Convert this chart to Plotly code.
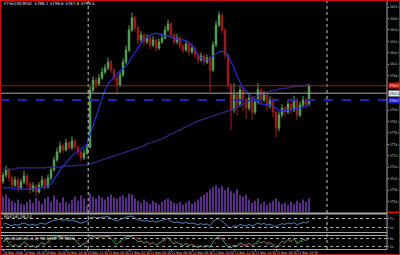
import plotly.graph_objects as go

title_text = "FTSE100,M30  3788.1 3794.6 3787.4 3794.5"
rsi_name = "RSI(14) 58.12"
stoch_name = "Stochastic(5,3,3) 90.4762 77.3016"

opens = [3761.0, 3763.3, 3765.1, 3762.3, 3759.8, 3761.6, 3758.8, 3760.9, 3763.0, 3760.2,
         3758.1, 3759.5, 3757.4, 3759.8, 3761.6, 3759.1, 3762.3, 3765.1, 3768.6, 3771.4,
         3773.5, 3772.1, 3774.5, 3772.8, 3775.2, 3773.1, 3771.4, 3769.3, 3771.0, 3773.0,
         3793.0, 3796.5, 3795.1, 3797.2, 3799.3, 3800.7, 3802.8, 3800.0, 3797.2, 3794.8,
         3798.3, 3802.8, 3807.0, 3814.0, 3818.2, 3814.7, 3810.5, 3812.2, 3809.8, 3811.2,
         3808.7, 3810.5, 3807.7, 3809.8, 3811.2, 3814.0, 3816.1, 3812.2, 3809.8, 3811.2,
         3808.4, 3807.0, 3809.1, 3806.3, 3807.7, 3805.2, 3803.5, 3804.9, 3802.8, 3804.2,
         3800.0, 3808.7, 3815.7, 3819.2, 3814.0, 3805.2, 3794.8, 3786.0, 3791.3, 3787.8,
         3793.0, 3789.5, 3786.7, 3790.2, 3785.3, 3788.8, 3793.0, 3789.5, 3791.3, 3787.4,
         3789.5, 3785.3, 3779.7, 3784.3, 3786.7, 3785.3, 3788.1, 3786.0, 3789.5, 3784.3,
         3787.8, 3789.5, 3788.1]
highs = [3764.5, 3766.6, 3765.8, 3763.0, 3762.8, 3762.5, 3762.0, 3764.8, 3763.8, 3761.0,
         3760.8, 3760.2, 3760.9, 3763.0, 3762.4, 3763.5, 3766.2, 3769.8, 3772.9, 3775.0,
         3774.3, 3776.0, 3775.3, 3776.8, 3775.9, 3773.8, 3772.0, 3772.3, 3774.0, 3794.5,
         3797.8, 3797.4, 3798.6, 3800.8, 3802.0, 3804.3, 3803.5, 3800.6, 3798.0, 3799.5,
         3804.0, 3808.5, 3815.6, 3820.0, 3819.0, 3815.5, 3813.6, 3812.8, 3812.5, 3811.9,
         3811.8, 3811.1, 3811.0, 3812.7, 3815.4, 3817.6, 3816.8, 3813.0, 3812.6, 3811.8,
         3809.2, 3810.4, 3809.8, 3809.0, 3808.4, 3806.0, 3806.2, 3805.5, 3805.4, 3804.8,
         3810.0, 3817.2, 3820.5, 3819.8, 3814.6, 3805.8, 3795.4, 3795.5, 3792.4, 3794.6,
         3793.8, 3790.2, 3791.5, 3790.8, 3790.0, 3795.5, 3793.6, 3792.7, 3792.0, 3790.8,
         3790.1, 3785.9, 3785.5, 3788.0, 3787.4, 3789.6, 3789.0, 3791.0, 3790.2, 3789.0,
         3791.0, 3790.3, 3795.2]
lows = [3760.2, 3762.5, 3761.0, 3758.5, 3759.0, 3757.2, 3758.0, 3760.2, 3759.0, 3756.8,
        3757.3, 3756.0, 3756.8, 3759.0, 3758.0, 3758.6, 3761.5, 3764.6, 3767.9, 3770.8,
        3771.0, 3771.5, 3771.9, 3772.0, 3772.2, 3770.2, 3768.2, 3768.6, 3770.3, 3772.5,
        3792.0, 3793.6, 3794.5, 3796.6, 3798.5, 3800.0, 3799.0, 3796.0, 3791.5, 3794.0,
        3797.6, 3802.0, 3806.2, 3813.2, 3813.5, 3809.0, 3809.6, 3808.4, 3809.0, 3807.3,
        3808.0, 3806.5, 3807.0, 3809.1, 3810.6, 3813.4, 3811.0, 3808.7, 3809.0, 3807.2,
        3805.8, 3806.4, 3805.0, 3805.6, 3804.1, 3802.2, 3802.9, 3801.6, 3802.0, 3792.3,
        3799.4, 3808.0, 3815.0, 3812.8, 3804.0, 3793.4, 3779.0, 3785.0, 3784.0, 3787.0,
        3785.6, 3783.0, 3785.8, 3782.6, 3784.5, 3788.0, 3788.2, 3788.8, 3785.8, 3786.5,
        3783.5, 3776.5, 3778.6, 3783.4, 3783.8, 3784.6, 3784.6, 3785.3, 3782.5, 3783.5,
        3787.0, 3786.8, 3787.4]
closes = [3763.3, 3765.1, 3762.3, 3759.8, 3761.6, 3758.8, 3760.9, 3763.0, 3760.2, 3758.1,
          3759.5, 3757.4, 3759.8, 3761.6, 3759.1, 3762.3, 3765.1, 3768.6, 3771.4, 3773.5,
          3772.1, 3774.5, 3772.8, 3775.2, 3773.1, 3771.4, 3769.3, 3771.0, 3772.8, 3793.0,
          3796.5, 3795.1, 3797.2, 3799.3, 3800.7, 3802.8, 3800.0, 3797.2, 3794.8, 3798.3,
          3802.8, 3807.0, 3814.0, 3818.2, 3814.7, 3810.5, 3812.2, 3809.8, 3811.2, 3808.7,
          3810.5, 3807.7, 3809.8, 3811.2, 3814.0, 3816.1, 3812.2, 3809.8, 3811.2, 3808.4,
          3807.0, 3809.1, 3806.3, 3807.7, 3805.2, 3803.5, 3804.9, 3802.8, 3804.2, 3800.0,
          3808.7, 3815.7, 3819.2, 3814.0, 3805.2, 3794.8, 3786.0, 3791.3, 3787.8, 3793.0,
          3789.5, 3786.7, 3790.2, 3785.3, 3788.8, 3793.0, 3789.5, 3791.3, 3787.4, 3789.5,
          3785.3, 3779.7, 3784.3, 3786.7, 3785.3, 3788.1, 3786.0, 3789.5, 3784.3, 3787.8,
          3789.5, 3788.1, 3794.5]
volumes = [150, 170, 130, 110, 90, 120, 80,
           70, 100, 120, 90, 140, 110, 80, 130, 150, 100,
           160, 120, 90, 140, 100, 80, 120, 150, 110, 160, 130, 60,
           180, 150, 130, 160, 140, 120, 150, 170, 140, 130, 150, 160, 140, 180, 170,
           130, 110, 90, 120, 100, 80, 110, 90, 70, 100, 120, 130, 110, 90, 80, 100, 70, 90, 110, 80, 100, 120,
           150, 170, 190, 220, 240, 260, 230, 250, 210, 240, 200, 180, 220, 160, 150, 170,
           120, 90, 110, 130, 80, 100, 70, 90, 110, 130, 100, 80, 90, 70, 100, 80, 110, 90, 120, 100, 130]
ma_fast = [3758.8, 3758.8, 3758.8, 3758.8, 3758.4, 3758.4, 3758.4, 3758.4, 3758.4, 3758.4,
           3758.4, 3758.4, 3758.8, 3758.8, 3759.1, 3759.5, 3760.2, 3761.6, 3763.3, 3765.1,
           3766.5, 3767.9, 3768.9, 3770.0, 3771.0, 3771.7, 3772.4, 3773.1, 3774.2, 3777.3,
           3780.8, 3783.9, 3787.1, 3790.2, 3793.0, 3795.1, 3796.5, 3797.6, 3798.6, 3799.7,
           3800.4, 3801.4, 3802.8, 3804.5, 3806.3, 3808.0, 3809.4, 3810.5, 3811.5, 3812.2,
           3812.6, 3812.9, 3812.6, 3812.2, 3811.9, 3811.9, 3811.5, 3811.2, 3810.8, 3810.5,
           3810.5, 3810.1, 3809.8, 3808.7, 3807.0, 3805.2, 3804.2, 3803.5, 3803.5, 3804.2,
           3804.9, 3805.6, 3806.3, 3806.6, 3806.3, 3805.2, 3803.1, 3800.7, 3797.9, 3795.5,
           3793.7, 3792.7, 3791.6, 3790.6, 3789.5, 3788.8, 3788.1, 3788.1, 3787.8, 3787.8,
           3787.4, 3786.7, 3786.0, 3785.7, 3785.7, 3786.0, 3786.0, 3786.4, 3786.7, 3786.7,
           3787.1, 3787.4, 3788.1]
ma_slow = [3765.4, 3765.4, 3765.4, 3765.4, 3765.4, 3765.8, 3765.8, 3765.8, 3765.8, 3765.8,
           3765.8, 3765.8, 3765.8, 3765.8, 3765.8, 3766.1, 3766.1, 3766.1, 3766.1, 3766.1,
           3766.5, 3766.5, 3766.5, 3766.5, 3766.5, 3766.8, 3766.8, 3766.8, 3766.8, 3767.2,
           3767.5, 3767.9, 3768.2, 3768.6, 3768.9, 3769.3, 3769.6, 3770.0, 3770.3, 3770.7,
           3771.0, 3771.4, 3771.7, 3772.1, 3772.4, 3772.8, 3773.1, 3773.5, 3774.2, 3774.5,
           3774.8, 3775.2, 3775.5, 3775.9, 3776.6, 3777.0, 3777.7, 3778.0, 3778.7, 3779.0,
           3779.7, 3780.1, 3780.8, 3781.1, 3781.8, 3782.2, 3782.5, 3782.9, 3783.2, 3783.6,
           3783.9, 3784.3, 3784.6, 3785.0, 3785.3, 3785.7, 3786.0, 3786.4, 3787.1, 3787.8,
           3788.1, 3788.8, 3789.5, 3789.9, 3790.6, 3790.9, 3791.6, 3792.0, 3792.3, 3792.7,
           3793.0, 3793.0, 3793.4, 3793.4, 3793.7, 3793.7, 3794.1, 3794.1, 3794.4, 3794.4,
           3794.4, 3794.8, 3794.8]
rsi = [45, 48, 42, 38, 44, 40, 46,
       50, 44, 40, 45, 39, 46, 50, 44, 52, 57,
       62, 64, 66, 62, 65, 60, 64, 58, 54, 49, 53, 57,
       74, 76, 73, 75, 77, 77, 78, 70, 64, 59, 66, 72, 75, 80, 81,
       71, 62, 64, 58, 61, 56, 60, 54, 58, 61, 66, 69, 58, 52, 55, 50, 48, 53, 47, 50, 45, 43,
       47, 43, 46, 38, 56, 66, 70, 58, 44, 34, 28, 38, 34, 44, 40, 36,
       44, 36, 43, 50, 44, 48, 41, 45, 38, 32, 42, 47, 44, 50, 46, 52, 43, 49, 52, 50, 58]
stoch_k = [60, 75, 40, 20, 35, 15, 30,
           55, 35, 15, 25, 10, 30, 50, 35, 60, 80,
           90, 92, 95, 85, 90, 75, 85, 70, 50, 25, 40, 55,
           90, 95, 88, 92, 95, 96, 97, 80, 55, 35, 60, 80, 92, 96, 98,
           80, 55, 62, 45, 55, 35, 50, 30, 45, 60, 80, 90, 60, 40, 52, 35, 25, 45, 25, 38, 20, 12,
           25, 15, 30, 12, 55, 85, 95, 75, 40, 15, 8, 30, 22, 50, 35, 20,
           45, 25, 40, 65, 45, 60, 35, 50, 30, 10, 35, 60, 50, 75, 55, 80, 40, 60, 75, 65, 90]
stoch_d = [55, 62, 58, 45, 32, 23, 27,
           33, 40, 35, 25, 17, 22, 30, 38, 48, 58,
           77, 87, 92, 91, 90, 83, 83, 77, 68, 48, 38, 40,
           62, 80, 91, 92, 92, 94, 96, 91, 77, 57, 50, 58, 77, 89, 95,
           91, 78, 66, 54, 54, 45, 47, 38, 42, 45, 62, 77, 77, 63, 51, 42, 37, 35, 32, 36, 28, 23,
           19, 17, 23, 19, 32, 51, 78, 85, 70, 43, 21, 18, 20, 34, 36, 35,
           33, 30, 37, 43, 50, 57, 47, 48, 38, 30, 25, 35, 48, 62, 60, 70, 58, 60, 58, 67, 77]

# price labels shown on the right axis (3794.0 and 3790.0 are hidden behind the line labels)
price_ticks = [3822.0, 3818.0, 3814.0, 3810.0, 3806.0, 3802.0, 3798.0,
               3786.0, 3782.0, 3778.0, 3774.0, 3770.0, 3766.0, 3762.0, 3758.0, 3754.0]
time_label_bars = [0, 7, 14, 21, 28, 35, 42, 49, 56, 63, 70, 77, 84, 91, 98]
time_labels = ["20 Nov 2008", "20 Nov 16:30", "20 Nov 18:30", "20 Nov 20:30", "20 Nov 22:30",
               "21 Nov 00:30", "21 Nov 02:30", "21 Nov 04:30", "21 Nov 06:30", "21 Nov 08:30",
               "21 Nov 10:30", "21 Nov 12:30", "21 Nov 14:30", "21 Nov 16:30", "21 Nov 18:30"]
separator_bars = [28.4, 108.0]
ask_line = 3791.9
level_line = 3789.5
rsi_levels = [70, 30]
stoch_levels = [80, 20]

W, H = 400, 255
PLOT_R = 387 / W


def py(px):
    return 1 - px / H


bars = list(range(len(closes)))
FONT = "Liberation Sans Narrow, DejaVu Sans Condensed, Arial, sans-serif"
UP, DN = "#5aa55a", "#a31c1c"

fig = go.Figure()
fig.add_trace(go.Bar(x=bars, y=volumes, marker=dict(color="#5b2d8a", line=dict(width=0)),
                     width=0.55, xaxis="x", yaxis="y", showlegend=False, hoverinfo="skip"))
fig.add_trace(go.Candlestick(x=bars, open=opens, high=highs, low=lows, close=closes,
                             increasing=dict(line=dict(color=UP, width=1), fillcolor=UP),
                             decreasing=dict(line=dict(color=DN, width=1), fillcolor=DN),
                             whiskerwidth=0, xaxis="x", yaxis="y2", showlegend=False))
fig.add_trace(go.Scatter(x=bars, y=ma_slow, mode="lines", line=dict(color="#2c2a86", width=1.2),
                         xaxis="x", yaxis="y2", showlegend=False))
fig.add_trace(go.Scatter(x=bars, y=ma_fast, mode="lines", line=dict(color="#1f2fd6", width=1.2),
                         xaxis="x", yaxis="y2", showlegend=False))
fig.add_trace(go.Scatter(x=bars, y=rsi, mode="lines", line=dict(color="#4a7fb8", width=1),
                         xaxis="x", yaxis="y3", showlegend=False))
fig.add_trace(go.Scatter(x=bars, y=stoch_k, mode="lines", line=dict(color="#3f9a6a", width=1),
                         xaxis="x", yaxis="y4", showlegend=False))
fig.add_trace(go.Scatter(x=bars, y=stoch_d, mode="lines", line=dict(color="#a02525", width=1, dash="dot"),
                         xaxis="x", yaxis="y4", showlegend=False))

tickfont = dict(size=3.3, color="#d0d0d0", family=FONT)
main_dom = [py(212), py(1)]
fig.update_layout(
    width=W, height=H, margin=dict(l=0, r=0, t=0, b=0, autoexpand=False),
    paper_bgcolor="black", plot_bgcolor="black",
    font=dict(family=FONT, color="#d8d8d8", size=4),
    showlegend=False,
    xaxis=dict(domain=[0, PLOT_R], range=[-1, 128], anchor="y4", showgrid=False, zeroline=False,
               tickvals=time_label_bars, ticktext=time_labels,
               tickfont=dict(size=3.4, color="#d8d8d8", family=FONT), tickangle=0, automargin=False,
               ticks="outside", ticklen=1, tickcolor="#a0a0a0",
               ticklabelposition="outside right", rangeslider=dict(visible=False)),
    yaxis=dict(domain=main_dom, range=[0, 260 * 212 / 27], visible=False, fixedrange=True),
    yaxis2=dict(overlaying="y", side="right", anchor="x", range=[3750.4, 3824.1],
                tickvals=price_ticks, ticktext=[f"{v:.1f}" for v in price_ticks],
                tickfont=tickfont, ticks="outside", ticklen=1, tickcolor="#a0a0a0",
                showgrid=False, zeroline=False, automargin=False),
    yaxis3=dict(domain=[py(232), py(214)], range=[10, 90], side="right", anchor="x",
                tickvals=rsi_levels, tickfont=tickfont, ticks="outside", ticklen=1,
                tickcolor="#a0a0a0", showgrid=False, zeroline=False, automargin=False),
    yaxis4=dict(domain=[py(249), py(236)], range=[0, 100], side="right", anchor="x",
                tickvals=stoch_levels, tickfont=tickfont, ticks="outside", ticklen=1,
                tickcolor="#a0a0a0", showgrid=False, zeroline=False, automargin=False),
)

shapes = []
for lv in rsi_levels:
    shapes.append(dict(type="line", xref="paper", yref="y3", x0=0, x1=PLOT_R, y0=lv, y1=lv,
                       line=dict(color="#b0b0b0", width=1, dash="dot")))
for lv in stoch_levels:
    shapes.append(dict(type="line", xref="paper", yref="y4", x0=0, x1=PLOT_R, y0=lv, y1=lv,
                       line=dict(color="#b0b0b0", width=1, dash="dot")))
for sb in separator_bars:
    shapes.append(dict(type="line", xref="x", yref="paper", x0=sb, x1=sb, y0=py(249), y1=py(0),
                       line=dict(color="#c8c8c8", width=1, dash="dot")))
shapes.append(dict(type="line", xref="paper", yref="y2", x0=0, x1=PLOT_R, y0=closes[-1], y1=closes[-1],
                   line=dict(color="#9b2020", width=1)))
shapes.append(dict(type="line", xref="paper", yref="y2", x0=0, x1=PLOT_R, y0=ask_line, y1=ask_line,
                   line=dict(color="#a9a9a9", width=1)))
shapes.append(dict(type="line", xref="paper", yref="y2", x0=0, x1=PLOT_R, y0=level_line, y1=level_line,
                   line=dict(color="#2424b0", width=2, dash="dash")))
for ypx, w in [(213.5, 2), (232.5, 1), (235.5, 1), (249.5, 1)]:
    shapes.append(dict(type="line", xref="paper", yref="paper", x0=0, x1=PLOT_R, y0=py(ypx), y1=py(ypx),
                       line=dict(color="#a8a8a8", width=w)))
shapes.append(dict(type="line", xref="paper", yref="paper", x0=PLOT_R, x1=PLOT_R, y0=py(249.5), y1=py(0),
                   line=dict(color="#a8a8a8", width=1)))
shapes.append(dict(type="line", xref="paper", yref="paper", x0=PLOT_R, x1=1, y0=py(212.5), y1=py(212.5),
                   line=dict(color="#e01010", width=2)))
shapes.append(dict(type="rect", xref="paper", yref="paper", x0=0, x1=1, y0=0, y1=1,
                   line=dict(color="#d01010", width=2)))
fig.update_layout(shapes=shapes)

ann = [
    dict(text=title_text, x=0.005, y=py(4), xanchor="left", yanchor="middle"),
    dict(text=rsi_name, x=0.005, y=py(216.5), xanchor="left", yanchor="middle"),
    dict(text=stoch_name, x=0.005, y=py(238.5), xanchor="left", yanchor="middle"),
]
annotations = []
for a in ann:
    annotations.append(dict(xref="paper", yref="paper", showarrow=False,
                            font=dict(size=4.5, color="#e0e0e0", family=FONT), **a))
for val, bg, fg in [(closes[-1], "#d01010", "white"), (ask_line, "#e8e8e8", "black"),
                    (level_line, "#1a1ad0", "white")]:
    annotations.append(dict(xref="paper", yref="y2", x=PLOT_R + 0.002, y=val, xanchor="left",
                            yanchor="middle", text=f"{val:.1f}", showarrow=False, bgcolor=bg,
                            borderpad=0, height=5, font=dict(size=3.3, color=fg, family=FONT)))
fig.update_layout(annotations=annotations)

fig.write_html("out.html")
